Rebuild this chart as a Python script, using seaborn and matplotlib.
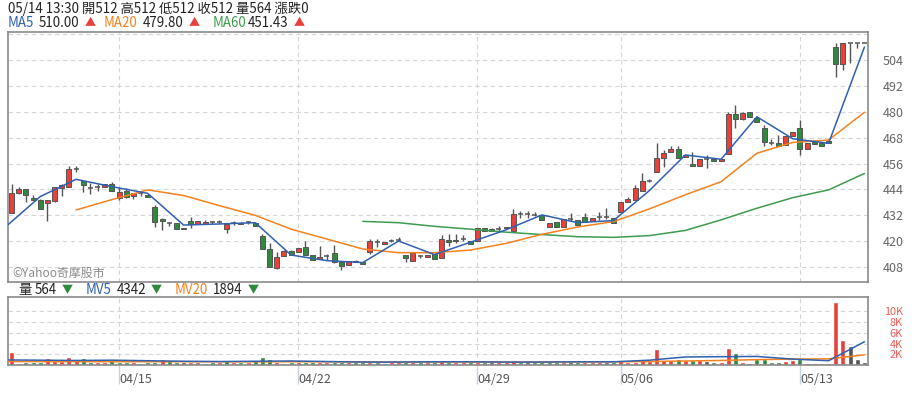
import matplotlib
matplotlib.use("Agg")
import matplotlib.pyplot as plt
import seaborn as sns
import pandas as pd
import numpy as np

# trading days shown (5 hourly bars per day)
days = ["04/10", "04/11", "04/12", "04/15", "04/16", "04/17", "04/18", "04/19",
        "04/22", "04/23", "04/24", "04/25", "04/26", "04/29", "04/30", "05/02",
        "05/03", "05/06", "05/07", "05/08", "05/09", "05/10", "05/13", "05/14"]
tick_days = ["04/15", "04/22", "04/29", "05/06", "05/13"]
price_ticks = [408, 420, 432, 444, 456, 468, 480, 492, 504, 516]
vol_ticks = [2000, 4000, 6000, 8000, 10000]
vol_tick_labels = ["2K", "4K", "6K", "8K", "10K"]

opens = [433.0, 442.2, 444.1, 439.9, 439.1, 437.9, 438.8, 444.8, 445.3, 453.5,
         447.9, 444.8, 445.0, 445.0, 446.4, 440.2, 443.4, 441.0, 442.2, 441.6,
         436.0, 430.5, 428.6, 428.3, 426.0, 429.3, 428.1, 428.0, 428.8, 429.0,
         425.7, 428.6, 428.5, 428.7, 428.6, 422.5, 416.3, 407.5, 413.3, 415.5,
         415.2, 417.5, 413.6, 411.6, 413.0, 414.7, 410.3, 408.9, 411.0, 410.2,
         414.9, 419.5, 418.6, 420.0, 420.5, 413.6, 411.0, 413.0, 412.8, 414.0,
         412.1, 420.5, 420.4, 420.9, 420.3, 420.3, 426.0, 425.7, 425.8, 426.0,
         424.8, 432.5, 432.5, 432.2, 432.2, 426.8, 428.8, 426.8, 430.3, 429.9,
         431.1, 429.5, 431.1, 431.1, 430.6, 433.4, 438.0, 439.1, 443.4, 448.1,
         452.3, 458.5, 461.2, 462.6, 458.9, 455.7, 455.0, 458.1, 458.1, 457.4,
         460.3, 479.0, 476.7, 479.8, 477.3, 472.6, 465.4, 465.4, 464.6, 468.9,
         472.6, 462.8, 466.1, 465.7, 466.5, 510.0, 502.0, 512.0, 512.0, 512.0]
highs = [446.5, 445.0, 444.1, 441.4, 439.5, 439.1, 445.0, 446.5, 454.9, 455.0,
         447.9, 447.0, 446.5, 446.5, 447.5, 445.0, 444.5, 442.2, 443.0, 442.0,
         436.8, 431.0, 429.0, 428.3, 426.0, 431.1, 429.5, 430.0, 429.5, 429.8,
         428.1, 429.5, 429.0, 429.5, 428.6, 423.5, 419.0, 415.2, 416.0, 416.0,
         417.0, 420.0, 413.6, 418.0, 414.0, 418.3, 410.3, 410.9, 411.2, 410.2,
         421.1, 421.2, 419.6, 421.0, 422.0, 413.6, 414.6, 413.8, 413.5, 414.0,
         423.0, 423.5, 423.5, 423.0, 420.3, 426.0, 426.0, 426.2, 427.0, 426.8,
         434.8, 434.2, 434.2, 433.5, 432.2, 428.6, 428.8, 430.3, 433.0, 429.9,
         433.0, 430.6, 433.4, 435.3, 430.6, 438.0, 440.7, 446.3, 451.8, 448.8,
         465.7, 462.3, 464.0, 464.0, 460.0, 461.2, 458.1, 460.0, 458.1, 458.1,
         480.0, 483.1, 480.0, 479.8, 477.3, 473.9, 467.5, 469.2, 468.9, 470.5,
         476.2, 465.7, 466.1, 465.7, 466.5, 512.0, 512.0, 512.0, 512.0, 512.0]
lows = [433.0, 442.0, 438.3, 438.9, 434.8, 429.5, 438.0, 441.0, 445.3, 452.0,
        443.0, 442.0, 443.5, 445.0, 443.3, 439.0, 440.0, 439.5, 441.0, 440.7,
        426.8, 425.2, 427.0, 425.6, 425.6, 426.0, 428.1, 428.0, 428.0, 428.3,
        423.7, 427.5, 428.0, 428.0, 427.1, 416.3, 408.2, 407.0, 413.3, 413.5,
        415.2, 413.6, 411.3, 411.6, 411.5, 409.8, 406.7, 408.9, 410.3, 409.4,
        414.0, 417.2, 418.6, 419.5, 420.0, 410.2, 411.0, 412.0, 412.5, 411.7,
        412.1, 418.0, 419.0, 420.0, 418.6, 420.3, 424.8, 424.8, 424.8, 426.0,
        424.8, 431.0, 431.0, 431.5, 429.9, 426.8, 426.8, 426.8, 429.5, 427.5,
        428.8, 429.5, 430.0, 430.5, 428.6, 433.4, 438.0, 439.1, 443.4, 447.5,
        452.3, 454.6, 461.2, 458.5, 458.9, 454.9, 455.0, 454.0, 457.2, 457.4,
        460.3, 472.6, 476.0, 477.4, 475.1, 464.3, 464.5, 464.3, 464.6, 468.9,
        460.0, 462.8, 464.9, 464.1, 465.5, 496.0, 499.4, 502.5, 509.4, 512.0]
closes = [442.2, 444.1, 441.4, 438.9, 434.8, 439.1, 445.0, 446.0, 453.4, 453.5,
          446.0, 444.8, 445.0, 446.5, 443.3, 442.7, 440.4, 442.2, 442.2, 440.7,
          429.1, 429.6, 428.6, 425.6, 425.6, 427.9, 429.3, 429.0, 428.8, 429.0,
          428.1, 428.6, 428.0, 428.7, 427.1, 416.3, 408.2, 412.6, 415.6, 413.5,
          417.0, 413.6, 411.3, 412.6, 413.0, 410.3, 408.7, 410.9, 410.3, 409.4,
          420.3, 419.5, 419.5, 420.0, 420.5, 412.1, 414.6, 413.0, 413.5, 411.7,
          420.9, 419.5, 419.9, 420.9, 418.6, 426.0, 424.8, 424.8, 425.8, 426.8,
          432.6, 432.5, 432.5, 432.2, 429.9, 428.6, 426.8, 430.3, 430.3, 427.5,
          428.8, 430.6, 431.1, 431.1, 428.6, 438.0, 439.6, 444.5, 447.9, 448.1,
          458.5, 460.8, 462.6, 458.5, 460.0, 454.9, 458.1, 458.1, 457.2, 458.1,
          479.0, 476.5, 479.3, 477.4, 475.1, 465.9, 465.4, 464.3, 468.9, 470.5,
          462.8, 465.7, 464.9, 464.1, 465.5, 502.0, 512.0, 512.0, 512.0, 512.0]
volumes = [2480, 430, 560, 480, 560, 1300, 800, 680, 1490, 870,
           1300, 560, 480, 480, 870, 560, 480, 500, 450, 480,
           600, 1100, 700, 500, 560, 560, 480, 450, 560, 500,
           870, 500, 480, 500, 930, 1500, 1050, 480, 450, 560,
           480, 560, 480, 480, 500, 560, 500, 480, 480, 500,
           620, 500, 450, 480, 480, 560, 500, 480, 480, 500,
           800, 480, 500, 480, 560, 620, 480, 480, 500, 480,
           700, 480, 480, 500, 560, 500, 480, 500, 480, 500,
           480, 480, 500, 480, 480, 930, 480, 500, 1100, 700,
           2980, 930, 930, 1100, 930, 930, 930, 740, 560, 560,
           3160, 2230, 560, 450, 1180, 1180, 560, 560, 740, 930,
           1050, 450, 450, 450, 450, 11800, 4650, 3530, 1120, 564]

# daily moving averages, one value per day from the day before 04/10 to 05/14
ma5 = [426.2, 440.7, 448.7, 445.3, 442.2, 427.5, 428.0, 428.6, 413.6, 411.0,
       410.1, 420.1, 413.8, 419.5, 425.3, 432.2, 428.6, 429.6, 443.5, 460.0,
       458.0, 477.7, 467.5, 465.4, 510.0]
ma20 = [np.nan, np.nan, 434.5, 439.3, 443.8, 441.2, 436.5, 432.0, 425.6, 421.0,
        416.4, 414.7, 414.7, 415.9, 419.0, 423.2, 426.6, 429.1, 435.0, 441.5,
        447.6, 460.8, 465.8, 466.9, 479.8]
ma60 = [np.nan] * 10 + [429.2, 428.6, 426.9, 425.6, 424.2, 423.1, 422.1, 421.8,
                        422.6, 425.0, 429.9, 435.3, 440.2, 443.8, 451.4]
mv5 = [950, 900, 850, 900, 800, 700, 650, 700, 750, 650,
       550, 550, 600, 600, 550, 550, 600, 600, 900, 1500,
       1550, 1600, 1100, 800, 4342]
mv20 = [650, 640, 630, 620, 620, 610, 600, 600, 610, 600,
        580, 570, 570, 560, 560, 560, 570, 600, 650, 750,
        850, 1000, 1100, 1150, 1894]

RED = "#e8403b"
GREEN = "#2f8a3e"
GRAY = "#555555"
BLUE = "#3160b0"
ORANGE = "#f5821f"
MAGREEN = "#3f9b50"

sns.set_theme(style="white")
plt.rcParams["font.family"] = ["Noto Sans CJK TC", "DejaVu Sans"]

n = len(closes)
idx = np.arange(n)
bars_per_day = n // len(days)
day_end = [bars_per_day * (d + 1) - 1 for d in range(-1, len(days))]

fig = plt.figure(figsize=(9.14, 3.95), dpi=100)
W, H = 914, 395
ax = fig.add_axes([8 / W, 1 - 282 / H, 860 / W, 250 / H])
axv = fig.add_axes([8 / W, 1 - 365 / H, 860 / W, 67.7 / H])

grid_kw = dict(color="#d6d6d6", lw=0.8, dashes=(4, 3))
tick_pos = [days.index(t) * bars_per_day for t in tick_days]
for a in (ax, axv):
    for p in tick_pos:
        a.axvline(p, zorder=0, **grid_kw)
    for s in a.spines.values():
        s.set_color("#8a8a8a")
        s.set_linewidth(1.2)
for t in price_ticks:
    ax.axhline(t, zorder=0, **grid_kw)
for t in vol_ticks:
    axv.axhline(t, zorder=0, **grid_kw)

# candlesticks
df = pd.DataFrame({"i": idx, "o": opens, "h": highs, "l": lows, "c": closes, "v": volumes})
ax.vlines(df["i"], df["l"], df["h"], color=GRAY, lw=1, zorder=2)
body_w = 0.72
for r in df.itertuples():
    if r.c == r.o:
        ax.hlines(r.c, r.i - body_w / 2, r.i + body_w / 2, color=GRAY, lw=1.1, zorder=3)
    else:
        col = RED if r.c > r.o else GREEN
        ax.bar(r.i, abs(r.c - r.o), bottom=min(r.o, r.c), width=body_w, color=col,
               edgecolor=GRAY, linewidth=0.7, zorder=3)

# moving averages
ma = pd.DataFrame({"x": day_end, "ma5": ma5, "ma20": ma20, "ma60": ma60,
                   "mv5": mv5, "mv20": mv20})
for col, c in (("ma60", MAGREEN), ("ma20", ORANGE), ("ma5", BLUE)):
    d = ma[["x", col]].dropna()
    sns.lineplot(data=d, x="x", y=col, ax=ax, color=c, lw=1.1, zorder=4)

ax.set_xlim(-0.5, n - 0.5)
ax.set_ylim(401.1, 517.0)
ax.set_xticks([])
ax.set_xlabel("")
ax.set_ylabel("")
ax.yaxis.tick_right()
ax.set_yticks(price_ticks)
ax.set_yticklabels([str(t) if t <= 504 else "" for t in price_ticks])
ax.tick_params(axis="y", length=0, pad=10.5, labelsize=9, labelcolor="#666666")
ax.text(0.005, 0.008, "©Yahoo奇摩股市", transform=ax.transAxes, color="#8c8c8c",
        fontsize=8.6, va="bottom", ha="left", zorder=1)

# volume
prev = np.r_[np.nan, closes[:-1]]
vcol = [RED if c > p else GREEN if c < p else GRAY for c, p in zip(closes, prev)]
vcol[0] = RED
axv.bar(idx, volumes, width=0.72, color=vcol, zorder=2)
for col, c in (("mv20", ORANGE), ("mv5", BLUE)):
    sns.lineplot(data=ma, x="x", y=col, ax=axv, color=c, lw=1.1, zorder=3)
axv.set_xlim(-0.5, n - 0.5)
axv.set_ylim(0, 12650)
axv.set_xlabel("")
axv.set_ylabel("")
axv.yaxis.tick_right()
axv.set_yticks(vol_ticks)
axv.set_yticklabels(vol_tick_labels)
for lab in axv.get_yticklabels():
    lab.set_horizontalalignment("right")
axv.tick_params(axis="y", length=0, pad=25, labelsize=7.8, labelcolor="#ec5b55")
axv.set_xticks(tick_pos)
axv.set_xticklabels(tick_days)
for lab in axv.get_xticklabels():
    lab.set_horizontalalignment("left")
axv.tick_params(axis="x", length=14, width=1, color="#c9d1dc", direction="out",
                pad=-8, labelsize=9, labelcolor="#555555", bottom=True)

# header texts
def put(x, y, s, color="#222222", size=9.6):
    fig.text(x / W, 1 - y / H, s, color=color, fontsize=size, va="center", ha="left")

put(8, 9, "05/14 13:30 開512 高512 低512 收512 量564 漲跌0")
put(8, 23, "MA5", BLUE)
put(39, 23, "510.00")
put(85, 23, "▲", RED, 8)
put(104, 23, "MA20", ORANGE)
put(143, 23, "479.80")
put(189, 23, "▲", RED, 8)
put(213, 23, "MA60", MAGREEN)
put(248, 23, "451.43")
put(294, 23, "▲", RED, 8)
put(18, 290, "量")
put(35, 290, "564")
put(62, 290, "▼", GREEN, 8)
put(86, 290, "MV5", BLUE)
put(117, 290, "4342")
put(151, 290, "▼", GREEN, 8)
put(175, 290, "MV20", ORANGE)
put(213, 290, "1894")
put(248, 290, "▼", GREEN, 8)

fig.savefig("out.png", dpi=100)
